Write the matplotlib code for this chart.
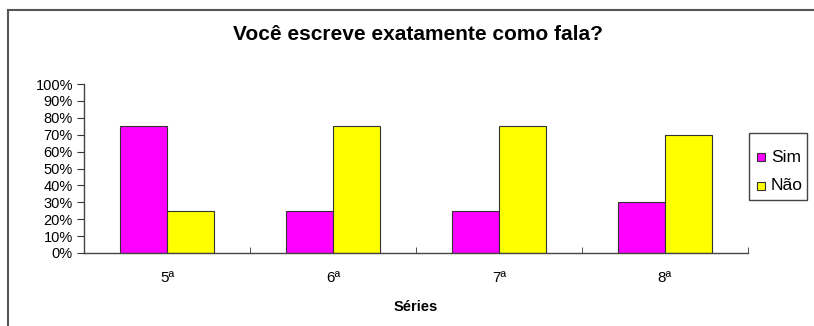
import matplotlib
matplotlib.use("Agg")
import matplotlib.pyplot as plt
import numpy as np
from matplotlib.lines import Line2D
from matplotlib.patches import Rectangle

categories = ["5ª", "6ª", "7ª", "8ª"]
sim = [75, 25, 25, 30]
nao = [25, 75, 75, 70]
yticks = list(range(0, 101, 10))
title = "Você escreve exatamente como fala?"
xlabel = "Séries"

plt.rcParams['font.family'] = ['Liberation Sans', 'DejaVu Sans']

fig = plt.figure(figsize=(8.14, 3.26), dpi=100)
W, H = 814, 326
ax = fig.add_axes([84 / W, 1 - 253 / H, (748 - 84) / W, (253 - 84) / H])

x = np.arange(len(categories))
bw = 1 / 3.5
ax.bar(x - bw / 2, sim, width=bw, color="#FF00FF", edgecolor="#333333", linewidth=0.8, label="Sim")
ax.bar(x + bw / 2, nao, width=bw, color="#FFFF00", edgecolor="#333333", linewidth=0.8, label="Não")

ax.set_xlim(-0.5, len(categories) - 0.5)
ax.set_ylim(0, 100)
ax.set_yticks(yticks)
ax.set_yticklabels([f"{v}%" for v in yticks], fontsize=10.5)
ax.set_xticks(x)
ax.set_xticklabels(categories, fontsize=11)
ax.set_xticks(np.arange(len(categories) + 1) - 0.5, minor=True)
ax.tick_params(axis='x', which='major', length=0, pad=13)
ax.tick_params(axis='x', which='minor', length=4, direction='in', color='#333333')
ax.tick_params(axis='y', length=5, color='#333333', pad=3)
for s in ['top', 'right']:
    ax.spines[s].set_visible(False)
for s in ['left', 'bottom']:
    ax.spines[s].set_color('#444444')
    ax.spines[s].set_linewidth(1.0)
ax.set_xlabel(xlabel, fontsize=10.5, fontweight='bold', labelpad=11)

fig.text(418 / W, 1 - 34 / H, title, ha='center', va='center', fontsize=15, fontweight='bold')

# outer frame lines
fig.add_artist(Line2D([7.5 / W, 1], [1 - 9.5 / H, 1 - 9.5 / H], color='#555555', linewidth=1.5, transform=fig.transFigure))
fig.add_artist(Line2D([7.5 / W, 7.5 / W], [0, 1 - 9.5 / H], color='#555555', linewidth=1.5, transform=fig.transFigure))

# legend box
lx0, ly0, lx1, ly1 = 749, 133, 807, 200
clip = Rectangle((lx0 / W, 1 - ly1 / H), (lx1 - lx0) / W, (ly1 - ly0) / H, transform=fig.transFigure)
fig.add_artist(Rectangle((lx0 / W, 1 - ly1 / H), (lx1 - lx0) / W, (ly1 - ly0) / H,
                         transform=fig.transFigure, facecolor='white', edgecolor='#444444', linewidth=1.0))
for i, (lab, col) in enumerate([("Sim", "#FF00FF"), ("Não", "#FFFF00")]):
    cy = 157 + i * 29
    fig.add_artist(Rectangle((757 / W, 1 - (cy + 4) / H), 8 / W, 8 / H, transform=fig.transFigure,
                             facecolor=col, edgecolor='#333333', linewidth=0.8))
    t = fig.text(771 / W, 1 - cy / H, lab, ha='left', va='center', fontsize=12.5)
    t.set_clip_path(clip)
    t.set_clip_on(True)

fig.savefig("out.png", dpi=100, facecolor='white')
